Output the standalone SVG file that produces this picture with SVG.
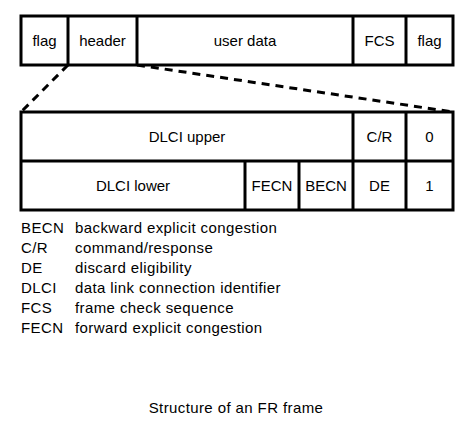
<svg xmlns="http://www.w3.org/2000/svg" width="475" height="429" viewBox="0 0 475 429">
<style>
.box{fill:#fff;stroke:#000;stroke-width:3}
.ln{stroke:#000;stroke-width:3;fill:none}
.dash{stroke:#000;stroke-width:3;fill:none;stroke-dasharray:8 6}
text{font-family:"Liberation Sans",Arial,sans-serif;font-size:15px;fill:#000}
.c{text-anchor:middle}
.w{letter-spacing:0.4px}
</style>
<rect width="475" height="429" fill="#fff"/>
<g id="connectors">
<line class="dash" x1="68" y1="65" x2="21" y2="112"/>
<line class="dash" x1="137" y1="65" x2="453" y2="112"/>
</g>
<g id="frame">
<rect class="box" x="21" y="16" width="432" height="49"/>
<line class="ln" x1="68" y1="16" x2="68" y2="65"/>
<line class="ln" x1="137" y1="16" x2="137" y2="65"/>
<line class="ln" x1="353" y1="16" x2="353" y2="65"/>
<line class="ln" x1="406" y1="16" x2="406" y2="65"/>
<text class="c" x="44.5" y="46">flag</text>
<text class="c" x="102.5" y="46">header</text>
<text class="c" x="245" y="46">user data</text>
<text class="c" x="379.5" y="46">FCS</text>
<text class="c" x="429.5" y="46">flag</text>
</g>
<g id="header">
<rect class="box" x="21" y="112" width="432" height="98"/>
<line class="ln" x1="21" y1="161" x2="453" y2="161"/>
<line class="ln" x1="353" y1="112" x2="353" y2="210"/>
<line class="ln" x1="406" y1="112" x2="406" y2="210"/>
<line class="ln" x1="245" y1="161" x2="245" y2="210"/>
<line class="ln" x1="299" y1="161" x2="299" y2="210"/>
<text class="c" x="187" y="142">DLCI upper</text>
<text class="c" x="379.5" y="142">C/R</text>
<text class="c" x="429.5" y="142">0</text>
<text class="c" x="133" y="191">DLCI lower</text>
<text class="c" x="272" y="191">FECN</text>
<text class="c" x="326" y="191">BECN</text>
<text class="c" x="379.5" y="191">DE</text>
<text class="c" x="429.5" y="191">1</text>
</g>
<g id="legend" class="w">
<text x="21" y="233">BECN</text><text x="75" y="233">backward explicit congestion</text>
<text x="21" y="253">C/R</text><text x="75" y="253">command/response</text>
<text x="21" y="273">DE</text><text x="75" y="273">discard eligibility</text>
<text x="21" y="293">DLCI</text><text x="75" y="293">data link connection identifier</text>
<text x="21" y="313">FCS</text><text x="75" y="313">frame check sequence</text>
<text x="21" y="333">FECN</text><text x="75" y="333">forward explicit congestion</text>
</g>
<g id="title" class="w">
<text class="c" x="236" y="413">Structure of an FR frame</text>
</g>
</svg>
